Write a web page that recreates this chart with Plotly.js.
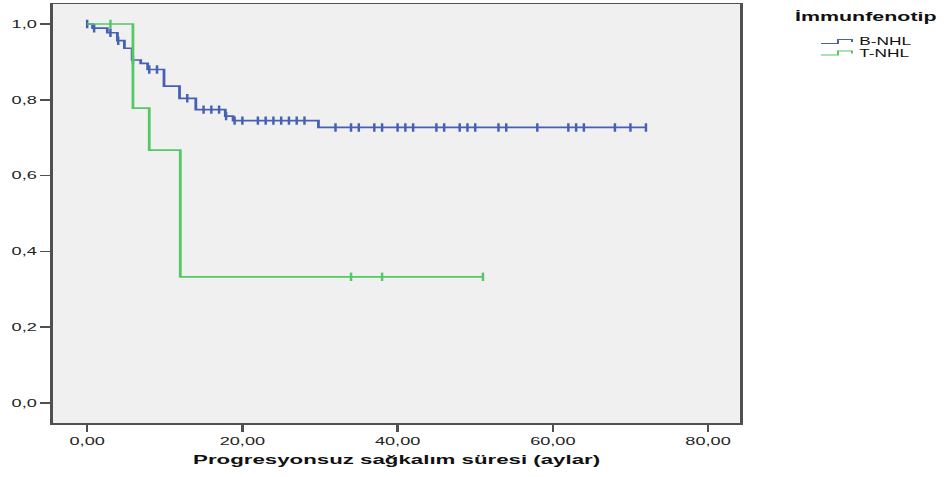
<!DOCTYPE html>
<html>
<head>
<meta charset="utf-8">
<script src="https://cdn.plot.ly/plotly-3.0.1.min.js"></script>
<style>
  html, body { margin: 0; padding: 0; background: #ffffff; overflow: hidden; }
  #wrap { width: 945px; height: 477px; overflow: hidden; }
  /* the chart is laid out narrow and widened horizontally, like the exported figure */
  #chart { width: 573px; height: 477px; transform-origin: 0 0; transform: scaleX(1.6492); }
</style>
</head>
<body>
<div id="wrap"><div id="chart"></div></div>
<script>
// Kaplan-Meier progression-free survival by immunophenotype (months)

// B-NHL: event times, survival after each event, censored times
const bEventTimes = [0.7, 2.6, 3.9, 4.8, 5.8, 6.9, 7.8, 9.9, 11.9, 14.0, 17.8, 18.8, 29.8];
const bSurvival   = [0.989, 0.977, 0.956, 0.936, 0.905, 0.896, 0.880, 0.836, 0.804, 0.774, 0.757, 0.745, 0.727];
const bCensored   = [0, 0.9, 3.0, 4.0, 5.9, 8.0, 9.0, 12.9, 15, 16, 17, 17.9, 19, 20, 22, 23, 24, 25, 26, 27, 28,
                     32, 34, 35, 37, 38, 40, 41, 42, 45, 46, 48, 49, 50, 53, 54, 58, 62, 63, 64, 68, 70, 72];
const bLastTime   = 72;

// T-NHL
const tEventTimes = [5.9, 8.0, 12.0];
const tSurvival   = [0.778, 0.667, 0.333];
const tCensored   = [3.0, 34, 38, 51];
const tLastTime   = 51;

const groupNames  = ["B-NHL", "T-NHL"];
const groupColors = ["#4660b4", "#55c866"];
const legendTitle = "İmmunfenotip";
const xTitle      = "Progresyonsuz sağkalım süresi (aylar)";
const xTicks      = [0, 20, 40, 60, 80];
const yTicks      = [0, 0.2, 0.4, 0.6, 0.8, 1.0];

const FONT = "Liberation Sans, Arial, Helvetica, sans-serif";

function survAt(times, surv, t) {
  let s = 1;
  for (let i = 0; i < times.length; i++) if (times[i] <= t) s = surv[i];
  return s;
}

function curve(times, surv, last) {
  return {
    x: [0].concat(times, [last]),
    y: [1].concat(surv, [surv[surv.length - 1]])
  };
}

const groups = [
  { times: bEventTimes, surv: bSurvival, cens: bCensored, last: bLastTime },
  { times: tEventTimes, surv: tSurvival, cens: tCensored, last: tLastTime }
];

const traces = [];
groups.forEach((g, i) => {
  const c = curve(g.times, g.surv, g.last);
  traces.push({
    type: "scatter", mode: "lines", name: groupNames[i],
    x: c.x, y: c.y, line: { shape: "hv", color: groupColors[i], width: 1.7 },
    hoverinfo: "skip", showlegend: false
  });
  traces.push({
    type: "scatter", mode: "markers", name: groupNames[i] + " censored",
    x: g.cens, y: g.cens.map(t => survAt(g.times, g.surv, t)),
    marker: { symbol: "line-ns", size: 6, line: { color: groupColors[i], width: 1.5 } },
    hoverinfo: "skip", showlegend: false
  });
});

// layout geometry (internal, before horizontal widening)
const W = 573, H = 477, ML = 32, MR = 124, MT = 4, MB = 54;
const PW = W - ML - MR, PH = H - MT - MB;
const S = 945 / W;
const px = x => (x / S - ML) / PW;      // page x -> paper
const py = y => (H - MB - y) / PH;      // page y -> paper

const annotations = [
  { text: "<b>" + legendTitle + "</b>", xref: "paper", yref: "paper", x: px(792), y: py(17),
    xanchor: "left", yanchor: "middle", showarrow: false, font: { family: FONT, size: 13, color: "#111" } }
];
const shapes = [];
groupNames.forEach((n, i) => {
  const yc = 41 + i * 11.5;
  annotations.push({ text: n, xref: "paper", yref: "paper", x: px(856), y: py(yc),
    xanchor: "left", yanchor: "middle", showarrow: false, font: { family: FONT, size: 10.5, color: "#111" } });
  const x0 = px(821), x1 = px(838), x2 = px(852);
  const yl = py(yc + 2.5), yh = py(yc - 1.5), ye = py(yc + 1);
  shapes.push({ type: "path", xref: "paper", yref: "paper",
    path: `M ${x0} ${yl} L ${x1} ${yl} L ${x1} ${yh} L ${x2} ${yh} L ${x2} ${ye}`,
    line: { color: groupColors[i], width: 1.2 } });
});

const axisCommon = {
  showline: true, linecolor: "#505050", linewidth: 1.5, mirror: true,
  ticks: "outside", tickcolor: "#505050", tickwidth: 1.5,
  showgrid: false, zeroline: false,
  tickfont: { family: FONT, size: 11, color: "#222" }
};

const layout = {
  width: W, height: H,
  margin: { l: ML, r: MR, t: MT, b: MB, pad: 0 },
  paper_bgcolor: "#ffffff", plot_bgcolor: "#f0f0f0",
  separators: ",.",
  showlegend: false,
  xaxis: Object.assign({}, axisCommon, {
    range: [-4.43, 84.18], tickvals: xTicks, tickformat: ".2f", ticklen: 7,
    title: { text: xTitle, standoff: 9, font: { family: FONT, size: 13.5, weight: 700, color: "#111" } }
  }),
  yaxis: Object.assign({}, axisCommon, {
    range: [-0.0528, 1.0528], tickvals: yTicks, tickformat: ".1f", ticklen: 6
  }),
  annotations: annotations,
  shapes: shapes
};

Plotly.newPlot("chart", traces, layout, { staticPlot: true, displayModeBar: false });
</script>
</body>
</html>
